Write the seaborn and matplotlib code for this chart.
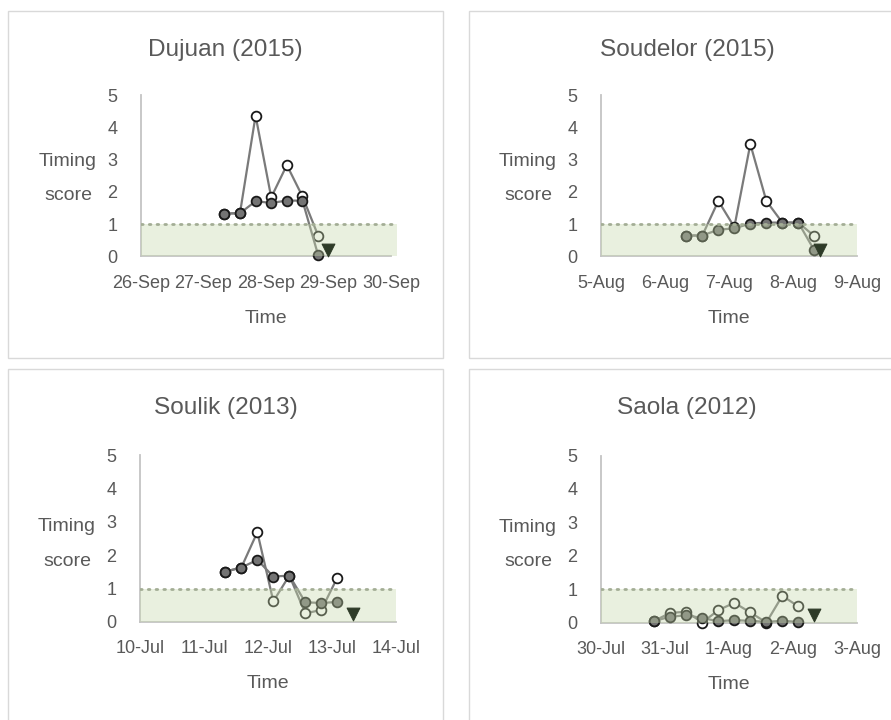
import matplotlib
matplotlib.use("Agg")
import matplotlib.pyplot as plt
import matplotlib.dates as mdates
from matplotlib.patches import Rectangle
from matplotlib.ticker import FuncFormatter
import seaborn as sns
import pandas as pd

# ---- data: timing scores sampled every 6 hours ----
dujuan_start = "2015-09-27 08:00"
dujuan_filled = [1.33, 1.34, 1.71, 1.66, 1.73, 1.73, 0.05]
dujuan_open = [1.33, 1.34, 4.36, 1.83, 2.83, 1.86, 0.65]
dujuan_landfall = ("2015-09-29 00:00", 0.20)

soudelor_start = "2015-08-06 08:00"
soudelor_filled = [0.65, 0.65, 0.83, 0.87, 1.02, 1.05, 1.05, 1.05, 0.19]
soudelor_open = [0.65, 0.65, 1.72, 0.91, 3.48, 1.72, 1.05, 1.05, 0.63]
soudelor_landfall = ("2015-08-08 10:00", 0.20)

soulik_start = "2013-07-11 08:00"
soulik_filled = [1.51, 1.63, 1.86, 1.36, 1.39, 0.59, 0.57, 0.60]
soulik_open = [1.51, 1.63, 2.69, 0.62, 1.39, 0.26, 0.36, 1.33]
soulik_landfall = ("2013-07-13 08:00", 0.23)

saola_start = "2012-07-30 20:00"
saola_filled = [0.05, 0.17, 0.22, 0.13, 0.04, 0.07, 0.05, 0.02, 0.05, 0.02]
saola_open = [0.05, 0.29, 0.32, 0.00, 0.37, 0.59, 0.30, 0.00, 0.80, 0.48]
saola_landfall = ("2012-08-02 08:00", 0.23)

titles = ["Dujuan (2015)", "Soudelor (2015)", "Soulik (2013)", "Saola (2012)"]
axis_starts = ["2015-09-26", "2015-08-05", "2013-07-10", "2012-07-30"]
y_ticks = [0, 1, 2, 3, 4, 5]
threshold = 1.0

panels = [
    (dujuan_start, dujuan_filled, dujuan_open, dujuan_landfall),
    (soudelor_start, soudelor_filled, soudelor_open, soudelor_landfall),
    (soulik_start, soulik_filled, soulik_open, soulik_landfall),
    (saola_start, saola_filled, saola_open, saola_landfall),
]

# ---- layout (pixels) ----
W, H = 891, 720
# left, y of zero line, width, height, days shown
axes_px = [
    (141, 256.5, 256, 161.5, 4.096),
    (601, 256.5, 256, 161.5, 4.0),
    (140, 622.0, 256, 167.0, 4.0),
    (601, 622.5, 256, 167.0, 4.0),
]
boxes_px = [(8, 11, 443, 358), (469, 11, 904, 358),
            (8, 369, 443, 725), (469, 369, 904, 725)]

sns.set_theme(style="white")
plt.rcParams["font.family"] = ["Liberation Sans", "DejaVu Sans"]

TXT = "#595959"
AXC = "#c4c4c4"

fig = plt.figure(figsize=(W / 100, H / 100), dpi=100)

for (x0, y0, x1, y1) in boxes_px:
    fig.add_artist(Rectangle((x0 / W, 1 - y1 / H), (x1 - x0) / W, (y1 - y0) / H,
                             transform=fig.transFigure, fill=False,
                             edgecolor="#d9d9d9", linewidth=1.0))


def day_label(x, _pos):
    d = mdates.num2date(x)
    return f"{d.day}-{d.strftime('%b')}"


for i, ((start, filled, opened, landfall), (left, zero, wpx, hpx, span)) in enumerate(zip(panels, axes_px)):
    ax = fig.add_axes([left / W, 1 - zero / H, wpx / W, hpx / H])
    times = pd.date_range(start, periods=len(filled), freq="6h")
    df = pd.DataFrame({"time": times, "filled": filled, "open": opened})

    sns.lineplot(data=df, x="time", y="open", ax=ax, color="#7a7a7a", lw=1.6,
                 marker="o", markersize=7, markerfacecolor="white",
                 markeredgecolor="#1a1a1a", markeredgewidth=1.3,
                 clip_on=False, zorder=3)
    sns.lineplot(data=df, x="time", y="filled", ax=ax, color="#7a7a7a", lw=1.6,
                 marker="o", markersize=7, markerfacecolor="#747474",
                 markeredgecolor="#1a1a1a", markeredgewidth=1.3,
                 clip_on=False, zorder=4)

    # translucent acceptable-range band over the data
    ax.axhspan(0, threshold, color="#c4d7a9", alpha=0.37, lw=0, zorder=5)
    ax.axhline(threshold, color="#a3ad95", lw=2.0, linestyle=(0, (0.6, 2.2)),
               dash_capstyle="round", zorder=6)

    lf = pd.DataFrame({"time": [pd.Timestamp(landfall[0])], "v": [landfall[1]]})
    sns.scatterplot(data=lf, x="time", y="v", ax=ax, marker="v", s=85,
                    color="#2e3b28", edgecolor="#2e3b28", zorder=7, clip_on=False)

    t0 = pd.Timestamp(axis_starts[i])
    ax.set_xlim(t0, t0 + pd.Timedelta(days=span))
    ax.set_ylim(0, 5)
    ax.set_yticks(y_ticks)
    ax.xaxis.set_major_locator(mdates.DayLocator())
    ax.xaxis.set_major_formatter(FuncFormatter(day_label))
    ax.set_xlabel("")
    ax.set_ylabel("")

    for s in ["top", "right"]:
        ax.spines[s].set_visible(False)
    for s in ["left", "bottom"]:
        ax.spines[s].set_color(AXC)
        ax.spines[s].set_linewidth(1.3)
    ax.spines["bottom"].set_bounds(mdates.date2num(t0),
                                   mdates.date2num(t0 + pd.Timedelta(days=4)))
    ax.tick_params(axis="both", colors=AXC, labelcolor=TXT, labelsize=13,
                   length=5, width=1.2, direction="out")
    ax.tick_params(axis="x", pad=8)
    ax.tick_params(axis="y", pad=11, length=6)
    ax.set_facecolor("none")

    # panel texts
    bx0, by0, bx1, by1 = boxes_px[i]
    cx = (bx0 + bx1) / 2 if i % 2 == 0 else 687
    fig.text(cx / W, 1 - (by0 + 39) / H, titles[i], ha="center", va="center",
             fontsize=17.6, color=TXT)
    lab_x = left - 73
    fig.text(lab_x / W, 1 - (zero - 95.5) / H, "Timing", ha="center", va="center",
             fontsize=14, color=TXT)
    fig.text(lab_x / W, 1 - (zero - 60.5) / H, "score", ha="center", va="center",
             fontsize=14, color=TXT)
    time_x = left + (wpx / span) * 2
    fig.text(time_x / W, 1 - (zero + 62) / H, "Time", ha="center", va="center",
             fontsize=14, color=TXT)

fig.savefig("out.png", dpi=100, facecolor="white")
